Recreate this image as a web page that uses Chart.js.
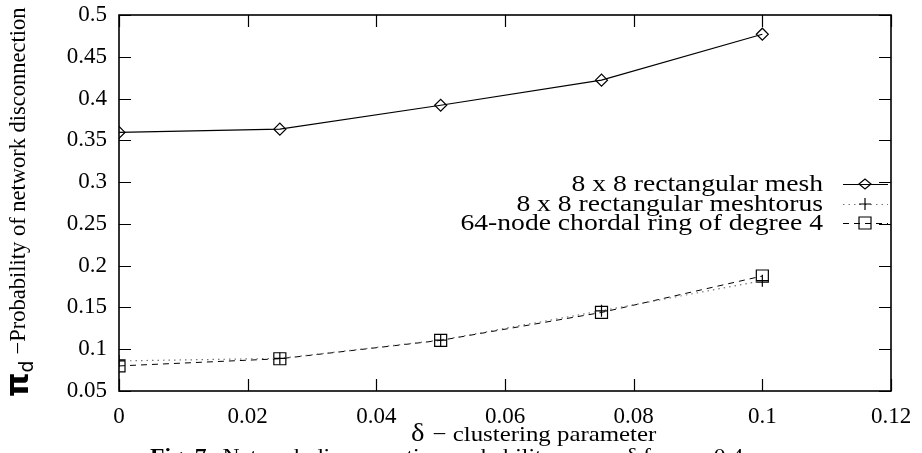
<!DOCTYPE html>
<html><head><meta charset="utf-8">
<style>html,body{margin:0;padding:0;background:#fff;overflow:hidden}#wrap{width:922px;height:453px;position:relative}</style>
<script src="https://cdn.jsdelivr.net/npm/chart.js@4.4.1/dist/chart.umd.min.js"></script>
</head><body><div id="wrap"><canvas id="c" width="922" height="453"></canvas></div>
<script>
// ---- data ----
const deltaValues   = [0, 0.025, 0.05, 0.075, 0.1];
const meshValues    = [0.3595, 0.3634, 0.392, 0.422, 0.477];
const torusValues   = [0.086, 0.089, 0.111, 0.146, 0.182];
const chordalValues = [0.080, 0.0886, 0.1106, 0.144, 0.1876];
const seriesNames   = ['8 x 8 rectangular mesh', '8 x 8 rectangular meshtorus', '64-node chordal ring of degree 4'];
const xTickValues   = [0, 0.02, 0.04, 0.06, 0.08, 0.1, 0.12];
const xTickLabels   = ['0', '0.02', '0.04', '0.06', '0.08', '0.1', '0.12'];
const yTickValues   = [0.05, 0.1, 0.15, 0.2, 0.25, 0.3, 0.35, 0.4, 0.45, 0.5];
const yTickLabels   = ['0.05', '0.1', '0.15', '0.2', '0.25', '0.3', '0.35', '0.4', '0.45', '0.5'];
const yTitleSymbol = 'π', yTitleSub = 'd', yTitleText = '\u2212Probability of network disconnection';
const xTitleSymbol = 'δ', xTitleText = '\u2212 clustering parameter';
const captionBold = 'Fig. 7.', captionText = 'Network disconnection probability versus δ for p = 0.4';

const SERIF = '"Liberation Serif", "Times New Roman", serif';
const SX = 1.13; // horizontal stretch of the reference text

function pts(vals){ return deltaValues.map((x,i)=>({x:x, y:vals[i]})); }

function stext(ctx, txt, x, y, font, align, sx){
  sx = sx || SX;
  ctx.save();
  ctx.font = font;
  const w = ctx.measureText(txt).width * sx;
  let x0 = x;
  if (align === 'right') x0 = x - w; else if (align === 'center') x0 = x - w/2;
  ctx.translate(x0, y); ctx.scale(sx, 1);
  ctx.textAlign = 'left'; ctx.textBaseline = 'alphabetic';
  ctx.fillText(txt, 0, 0);
  ctx.restore();
  return w;
}

function marker(ctx, style, x, y){
  ctx.save(); ctx.strokeStyle = '#000'; ctx.lineWidth = 1.2; ctx.setLineDash([]);
  ctx.beginPath();
  if (style === 'diamond'){ ctx.moveTo(x-6,y); ctx.lineTo(x,y-5); ctx.lineTo(x+6,y); ctx.lineTo(x,y+5); ctx.closePath(); }
  else if (style === 'plus'){ ctx.moveTo(x-6,y); ctx.lineTo(x+6,y); ctx.moveTo(x,y-6); ctx.lineTo(x,y+6); }
  else { ctx.rect(x-6,y-6,12,12); }
  ctx.stroke(); ctx.restore();
}

const decor = {
  id: 'decor',
  afterDraw(chart){
    const ctx = chart.ctx, a = chart.chartArea, xs = chart.scales.x, ys = chart.scales.y;
    ctx.save();
    ctx.strokeStyle = '#000'; ctx.fillStyle = '#000'; ctx.setLineDash([]);
    // box
    ctx.lineWidth = 1.6;
    ctx.strokeRect(a.left, a.top, a.right - a.left, a.bottom - a.top);
    // inward ticks, mirrored
    ctx.lineWidth = 1.2;
    ctx.beginPath();
    xTickValues.forEach(v=>{ const p = Math.round(xs.getPixelForValue(v))+0.5;
      ctx.moveTo(p, a.bottom); ctx.lineTo(p, a.bottom-12);
      ctx.moveTo(p, a.top); ctx.lineTo(p, a.top+12); });
    yTickValues.forEach(v=>{ const p = Math.round(ys.getPixelForValue(v))+0.5;
      ctx.moveTo(a.left, p); ctx.lineTo(a.left+12, p);
      ctx.moveTo(a.right, p); ctx.lineTo(a.right-12, p); });
    ctx.stroke();

    // y title (rotated)
    ctx.save();
    ctx.translate(28, 397); ctx.rotate(-Math.PI/2);
    ctx.font = 'bold 31px "DejaVu Sans", sans-serif';
    ctx.textAlign = 'left'; ctx.textBaseline = 'alphabetic';
    ctx.fillText(yTitleSymbol, 0, 0);
    let off = ctx.measureText(yTitleSymbol).width;
    ctx.font = '19px "DejaVu Sans", sans-serif';
    ctx.fillText(yTitleSub, off, 5);
    off += ctx.measureText(yTitleSub).width + 6;
    ctx.font = '22.5px ' + SERIF;
    ctx.fillText(yTitleText, off, -3);
    ctx.restore();

    // x title
    let w = stext(ctx, xTitleSymbol, 411, 441, '26px ' + SERIF, 'left', 1.1);
    stext(ctx, xTitleText, 411 + w + 8, 441, '22px ' + SERIF, 'left');

    // caption (cut by bottom edge)
    w = stext(ctx, captionBold, 150, 463, 'bold 21px ' + SERIF, 'left');
    stext(ctx, captionText, 150 + w + 10, 463, '21px ' + SERIF, 'left');

    // legend
    const rows = [184, 204, 223];
    const styles = [{dash:[], color:'#000', m:'diamond', lw:1.2}, {dash:[1.5,4], color:'#777', m:'plus', lw:1.2}, {dash:[6,5], color:'#000', m:'square', lw:1}];
    rows.forEach((ry,i)=>{
      ctx.fillStyle = '#000';
      stext(ctx, seriesNames[i], 823, ry + 7, '24px ' + SERIF, 'right', 1.15);
      ctx.save(); ctx.strokeStyle = styles[i].color; ctx.lineWidth = styles[i].lw; ctx.setLineDash(styles[i].dash);
      ctx.beginPath(); ctx.moveTo(843, ry+0.5); ctx.lineTo(888, ry+0.5); ctx.stroke(); ctx.restore();
      marker(ctx, styles[i].m, 865, ry);
    });
    ctx.restore();
  }
};

new Chart(document.getElementById('c'), {
  type: 'line',
  data: {
    datasets: [
      { label: seriesNames[0], data: pts(meshValues), borderColor: '#000', borderWidth: 1.2,
        pointStyle: 'rectRot', pointRadius: 6, pointBorderColor: '#000', pointBackgroundColor: 'rgba(0,0,0,0)', pointBorderWidth: 1.2, tension: 0 },
      { label: seriesNames[1], data: pts(torusValues), borderColor: '#777', borderWidth: 1.2, borderDash: [1.5, 4],
        pointStyle: 'cross', pointRadius: 6, pointBorderColor: '#000', pointBackgroundColor: 'rgba(0,0,0,0)', pointBorderWidth: 1.2, tension: 0 },
      { label: seriesNames[2], data: pts(chordalValues), borderColor: '#000', borderWidth: 1, borderDash: [6, 5],
        pointStyle: 'rect', pointRadius: 8.5, pointBorderColor: '#000', pointBackgroundColor: 'rgba(0,0,0,0)', pointBorderWidth: 1.2, tension: 0 }
    ]
  },
  options: {
    responsive: false, animation: false, devicePixelRatio: 1,
    layout: { padding: { left: 0, right: 31, top: 15, bottom: 0 } },
    plugins: { legend: { display: false }, tooltip: { enabled: false } },
    scales: {
      x: { type: 'linear', min: 0, max: 0.12,
        afterFit: s => { s.height = 62; s.paddingLeft = 0; s.paddingRight = 0; },
        afterBuildTicks: s => { s.ticks = xTickValues.map(v=>({value:v})); },
        grid: { display: false, drawTicks: false }, border: { display: false },
        ticks: { padding: 12, color: '#000', font: { family: SERIF, size: 23 }, maxRotation: 0,
          callback: (v, i) => xTickLabels[i] } },
      y: { type: 'linear', min: 0.05, max: 0.5,
        afterFit: s => { s.width = 119; s.paddingTop = 0; s.paddingBottom = 0; },
        afterBuildTicks: s => { s.ticks = yTickValues.map(v=>({value:v})); },
        grid: { display: false, drawTicks: false }, border: { display: false },
        ticks: { padding: 12, color: '#000', font: { family: SERIF, size: 23 },
          callback: (v, i) => yTickLabels[i] } }
    }
  },
  plugins: [decor]
});
</script></body></html>
